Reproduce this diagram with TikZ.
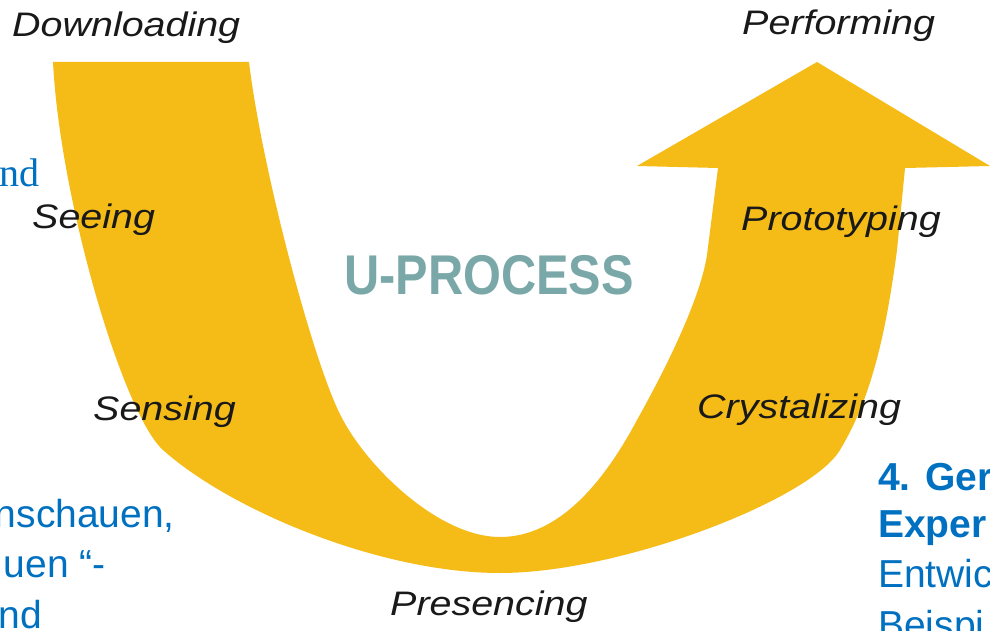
\documentclass[tikz,border=0pt]{standalone}
\usepackage{fontspec}
\setmainfont{Liberation Sans}
\newfontfamily\stagefont[FakeStretch=1.16]{Liberation Sans}
\newfontfamily\titlefont[FakeStretch=0.87]{Liberation Sans}
\newfontfamily\serifnote{Liberation Serif}
\usetikzlibrary{positioning}
\definecolor{uyellow}{RGB}{245,188,24}
\definecolor{utitle}{RGB}{122,168,168}
\definecolor{noteblue}{RGB}{0,112,192}
\definecolor{stageblack}{RGB}{25,25,25}

\begin{document}
\begin{tikzpicture}[x=1pt,y=-1pt,
    stage/.style={anchor=base west,inner sep=0pt,text=stageblack,
      font=\stagefont\itshape\fontsize{34}{34}\selectfont},
    note/.style={inner sep=0pt,text=noteblue,font=\fontsize{39}{47}\selectfont},
    notebold/.style={note,font=\bfseries\fontsize{39}{47}\selectfont}]
  \clip (0,0) rectangle (990,631);
  \fill[white] (0,0) rectangle (990,631);
  % the U arrow
  \fill[uyellow] (53,62) -- (249,62)
    .. controls (262,170) and (315,370) .. (343,420)
    .. controls (370,470) and (440,537) .. (500,537)
    .. controls (560,537) and (605,480) .. (637,420)
    .. controls (665,370) and (700,300) .. (707,255)
    -- (718,168) -- (637,166) -- (817,62) -- (990,166) -- (905,168) -- (897,250)
    .. controls (885,340) and (870,400) .. (840,450)
    .. controls (810,500) and (620,573) .. (500,573)
    .. controls (380,573) and (230,510) .. (163,450)
    .. controls (123,414) and (60,200) .. (53,62) -- cycle;
  % stages
  \node[stage] (down)  at (12,37)  {Downloading};
  \node[stage] (perf)  at (742,35) {Performing};
  \node[stage] (see)   at (32,228) {Seeing};
  \node[stage] (proto) at (741,230) {Prototyping};
  \node[stage] (sense) at (93,420) {Sensing};
  \node[stage] (cryst) at (697,418) {Crystalizing};
  \node[stage] (pres)  at (390,615) {Presencing};
  \node[anchor=base west,inner sep=0pt,text=utitle,
    font=\titlefont\bfseries\fontsize{56}{56}\selectfont] (title) at (344,294) {U-PROCESS};
  % cut text at the edges
  \node[anchor=base east,inner sep=0pt,text=noteblue,
    font=\serifnote\fontsize{40}{40}\selectfont] (topnote) at (40,186) {nd};
  \node[note,anchor=base east] (leftA) at (175,527) {nschauen,};
  \node[note,anchor=base east] (leftB) at (106,577) {uen “-};
  \node[note,anchor=base east] (leftC) at (42,628)  {nd};
  \node[notebold,anchor=base west] (rightA) at (878,490) {4. Ger};
  \node[notebold,anchor=base west] (rightB) at (878,537) {Exper};
  \node[note,anchor=base west]     (rightC) at (878,587) {Entwic};
  \node[note,anchor=base west]     (rightD) at (878,638) {Beispi};
\end{tikzpicture}
\end{document}
